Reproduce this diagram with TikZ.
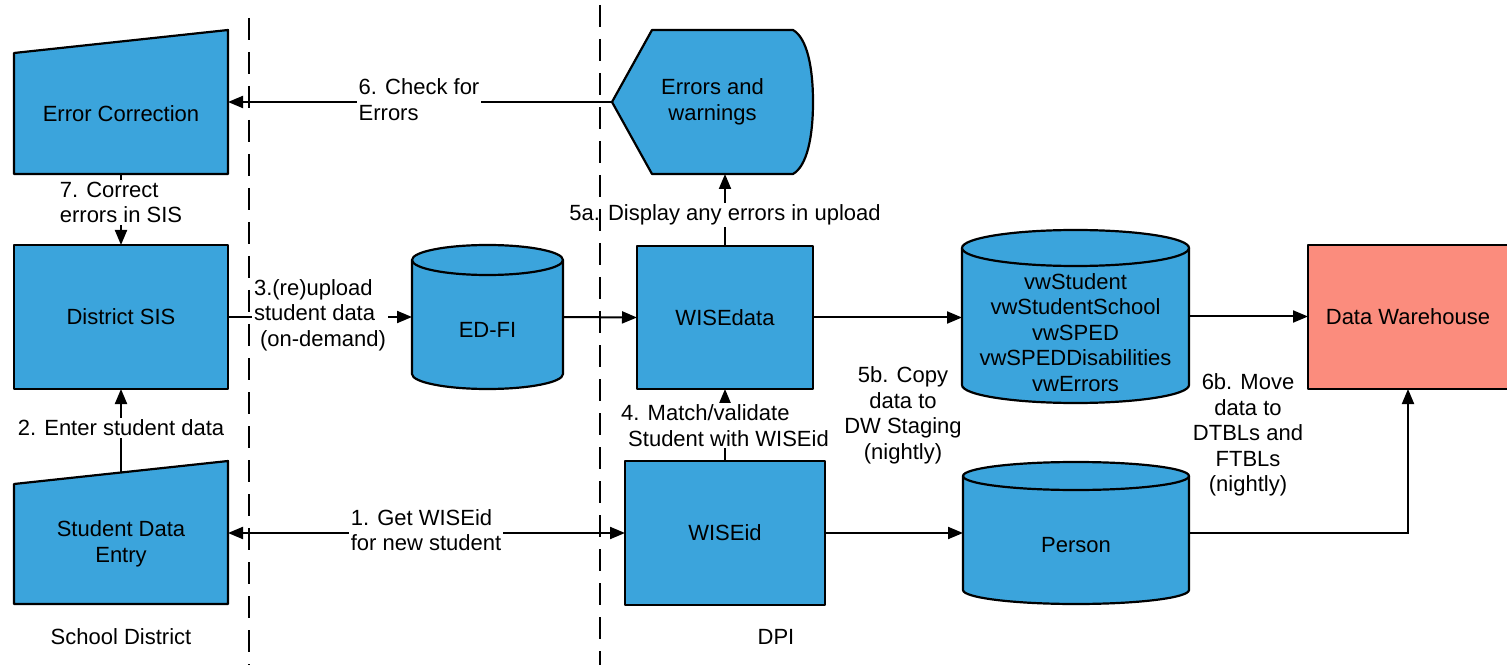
\documentclass[tikz,border=0pt]{standalone}
\usepackage{fontspec}
\setmainfont{Liberation Sans}
\usetikzlibrary{arrows.meta,calc,backgrounds}
\definecolor{dpiblue}{RGB}{59,164,220}
\definecolor{dwsalmon}{RGB}{251,140,125}

% cylinder outline behind a node: #1 node, #2 x radius, #3 y radius
\newcommand{\dbdraw}[3]{%
  \filldraw[shapeline,fill=dpiblue] ($(#1.north west)+(0,-#3)$) -- ($(#1.south west)+(0,#3)$)
     arc[start angle=180,end angle=360,x radius=#2,y radius=#3]
     -- ($(#1.north east)+(0,-#3)$)
     arc[start angle=0,end angle=180,x radius=#2,y radius=#3] -- cycle;
  \draw[shapeline] ($(#1.north west)+(0,-#3)$)
     arc[start angle=180,end angle=360,x radius=#2,y radius=#3];}

\begin{document}
\begin{tikzpicture}[x=1pt,y=1pt,
  font=\fontsize{22}{25.5}\selectfont,
  >={Triangle[length=15pt,width=12pt]},
  shapeline/.style={draw=black,line width=2.2pt,line join=round},
  block/.style={rectangle,shapeline,fill=dpiblue,inner sep=0pt,outer sep=0pt,align=center},
  ghost/.style={rectangle,inner sep=0pt,outer sep=0pt,align=center},
  flow/.style={line width=2pt,->},
  lbl/.style={fill=white,inner sep=2pt,align=left},
  lane/.style={line width=2pt,dash pattern=on 22pt off 12pt}]
   \useasboundingbox (0,0) rectangle (1507,665);

   % school district side
   \node[ghost,minimum width=214,minimum height=121] (errcorr) at (121,551.5) {Error Correction};
   \node[block,minimum width=214,minimum height=144] (sis) at (121,348) {District SIS};
   \node[ghost,minimum width=214,minimum height=120] (entry) at (121,121) {Student Data\\Entry};

   % DPI side
   \node[ghost,minimum width=201,minimum height=144] (errwarn) at (712.5,563) {Errors and\\warnings};
   \node[ghost,minimum width=151,minimum height=144,label={[yshift=-13]center:ED-FI}] (edfi) at (487.5,348) {};
   \node[block,minimum width=176,minimum height=143] (wisedata) at (725,347.5) {WISEdata};
   \node[block,minimum width=200,minimum height=144] (wiseid) at (725,132) {WISEid};
   \node[ghost,minimum width=227,minimum height=173,
     label={[yshift=-16,align=center]center:{vwStudent\\vwStudentSchool\\vwSPED\\vwSPEDDisabilities\\vwErrors}}] (staging) at (1075.5,348.5) {};
   \node[ghost,minimum width=226,minimum height=142,label={[yshift=-12]center:Person}] (person) at (1076,132) {};
   \node[block,fill=dwsalmon,minimum width=200,minimum height=144] (dw) at (1408,348) {Data Warehouse};

   \begin{scope}[on background layer]
     \filldraw[shapeline,fill=dpiblue] (errcorr.south west) -- (errcorr.north west)
        -- ([yshift=23]errcorr.north east) -- (errcorr.south east) -- cycle;
     \filldraw[shapeline,fill=dpiblue] (entry.south west) -- (entry.north west)
        -- ([yshift=23]entry.north east) -- (entry.south east) -- cycle;
     \filldraw[shapeline,fill=dpiblue] (errwarn.west) -- ([xshift=40]errwarn.north west)
        -- ([xshift=-20]errwarn.north east)
        .. controls ([xshift=-6,yshift=-8]errwarn.north east) and ([yshift=35]errwarn.east) .. (errwarn.east)
        .. controls ([yshift=-35]errwarn.east) and ([xshift=-6,yshift=8]errwarn.south east) .. ([xshift=-20]errwarn.south east)
        -- ([xshift=40]errwarn.south west) -- cycle;
     \dbdraw{edfi}{75.5}{15}
     \dbdraw{staging}{113.5}{18}
     \dbdraw{person}{113}{14}
   \end{scope}

   % connectors
   \coordinate (entrytop) at ([yshift=11.5]entry.north);
   \draw[flow] (errwarn.west) -- (errwarn.west -| errcorr.east);
   \draw[flow] (errcorr.south) -- (sis.north);
   \draw[flow] (entrytop) -- (sis.south);
   \draw[flow] (sis.east) -- (edfi.west);
   \draw[flow] (edfi.east) -- (wisedata.west);
   \draw[flow] (wisedata.north) -- (wisedata.north |- errwarn.south);
   \draw[flow] (wisedata.east) -- (wisedata.east -| staging.west);
   \draw[flow] (staging.east) -- (staging.east -| dw.west);
   \draw[flow] (wiseid.north) -- (wisedata.south);
   \draw[flow,<->] (wiseid.west -| entry.east) -- (wiseid.west);
   \draw[flow] (wiseid.east) -- (person.west);
   \draw[flow] (person.east) -| (dw.south);

   % labels
   \node[lbl] (l6) at (419,565.5) {6. Check for\\Errors};
   \node[lbl] (l7) at (121,462.5) {7. Correct\\errors in SIS};
   \node[lbl] (l2) at (121,237) {2. Enter student data};
   \node[lbl] (l3) at (320,350) {3.(re)upload\\student data\\\hspace*{6pt}(on-demand)};
   \node[lbl] (l5a) at (725,450) {5a. Display any errors in upload};
   \node[lbl] (l4) at (725,239.5) {4. Match/validate\\\hspace*{7pt}Student with WISEid};
   \node[lbl] (l1) at (426,135) {1. Get WISEid\\for new student};
   \node[align=center] (l5b) at (903,249.5) {5b. Copy\\data to\\DW Staging\\(nightly)};
   \node[align=center] (l6b) at (1248,230) {6b. Move\\data to\\DTBLs and\\FTBLs\\(nightly)};
   \node (lanedist) at (121,28) {School District};
   \node (lanedpi) at (776,28) {DPI};

   % lane separators
   \draw[lane] (249,647) -- (249,0);
   \draw[lane] (600,660) -- (600,0);
\end{tikzpicture}
\end{document}
